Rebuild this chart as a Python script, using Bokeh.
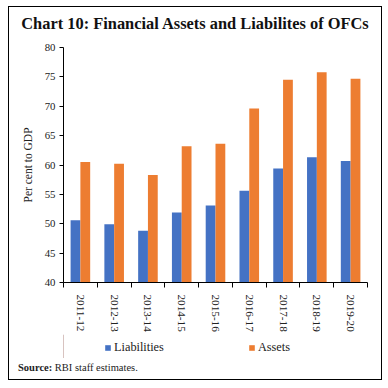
from bokeh.plotting import figure
from bokeh.models import (ColumnDataSource, Range1d, FixedTicker, Legend, LegendItem, Div)
from bokeh.layouts import column
from bokeh.transform import dodge
from bokeh.embed import file_html
from bokeh.resources import INLINE

years = ["2011-12", "2012-13", "2013-14", "2014-15", "2015-16",
         "2016-17", "2017-18", "2018-19", "2019-20"]
liabilities = [50.6, 49.9, 48.8, 51.9, 53.1, 55.6, 59.4, 61.3, 60.7]
assets = [60.5, 60.2, 58.3, 63.2, 63.6, 69.6, 74.5, 75.8, 74.7]
y_ticks = [40, 45, 50, 55, 60, 65, 70, 75, 80]
series_names = ["Liabilities", "Assets"]

idx = list(range(len(years)))
src = ColumnDataSource(dict(x=idx, liab=liabilities, assets=assets))

SERIF = "Liberation Serif"
BLUE = "#4472C4"
ORANGE = "#ED7D31"

# ---------------- main chart ----------------
p = figure(width=372, height=297, output_backend="svg", toolbar_location=None,
           title=None,
           x_range=Range1d(-0.5, len(years) - 0.5), y_range=Range1d(40, 80),
           min_border_left=54, min_border_right=14, min_border_top=10,
           min_border_bottom=50)
p.outline_line_color = None
p.xgrid.visible = False
p.ygrid.visible = False

r1 = p.vbar(x=dodge("x", -0.145, range=p.x_range), top="liab", width=0.29,
            source=src, fill_color=BLUE, line_color=None)
r2 = p.vbar(x=dodge("x", 0.145, range=p.x_range), top="assets", width=0.29,
            source=src, fill_color=ORANGE, line_color=None)

xa = p.xaxis[0]
xa.ticker = FixedTicker(ticks=idx, minor_ticks=[i - 0.5 for i in range(len(years) + 1)])
xa.major_label_overrides = {i: y for i, y in enumerate(years)}
xa.major_tick_line_color = None
xa.major_tick_out = 0
xa.major_tick_in = 0
xa.minor_tick_in = 0
xa.minor_tick_out = 5
xa.minor_tick_line_color = "black"
xa.major_label_orientation = "vertical"
xa.major_label_standoff = 7
xa.major_label_text_font = SERIF
xa.major_label_text_font_size = "11.2px"
xa.major_label_text_color = "#222222"
xa.axis_line_color = "black"

ya = p.yaxis[0]
ya.ticker = FixedTicker(ticks=y_ticks)
ya.major_tick_out = 4
ya.major_tick_in = 0
ya.minor_tick_line_color = None
ya.major_tick_line_color = "black"
ya.axis_line_color = "black"
ya.major_label_text_font = SERIF
ya.major_label_text_font_size = "10.8px"
ya.major_label_text_color = "#222222"
ya.major_label_standoff = 4
ya.axis_label = "Per cent to GDP"
ya.axis_label_text_font = SERIF
ya.axis_label_text_font_size = "11.5px"
ya.axis_label_text_font_style = "normal"
ya.axis_label_text_color = "#222222"
ya.axis_label_standoff = 8

# ---------------- legend strip ----------------
p2 = figure(width=372, height=24, output_backend="svg", toolbar_location=None,
            title=None, x_axis_type=None, y_axis_type=None,
            x_range=Range1d(0, 1), y_range=Range1d(0, 1), min_border=0)
p2.outline_line_color = None
p2.xgrid.visible = False
p2.ygrid.visible = False
# legend proxies (placed outside the visible range, only their swatches show)
k1 = p2.vbar(x=[-5], top=[1], width=0.29, fill_color=BLUE, line_color=None)
k2 = p2.vbar(x=[-5], top=[1], width=0.29, fill_color=ORANGE, line_color=None)

legend = Legend(items=[LegendItem(label=series_names[0], renderers=[k1]),
                       LegendItem(label=series_names[1], renderers=[k2])],
                orientation="horizontal", location=(41, 3))
legend.padding = 0
legend.margin = 0
legend.border_line_color = None
legend.background_fill_color = None
legend.glyph_width = 7
legend.glyph_height = 7
legend.label_height = 14
legend.label_standoff = 3
legend.spacing = 84
legend.label_text_font = SERIF
legend.label_text_font_size = "12.3px"
legend.label_text_color = "#222222"
p2.add_layout(legend, "center")

title_div = Div(text="Chart 10: Financial Assets and Liabilites of OFCs",
                width=372, height=30, margin=0,
                styles={"font-family": SERIF, "font-weight": "bold",
                        "font-size": "16.4px", "color": "#111111",
                        "text-align": "center", "line-height": "34px",
                        "white-space": "nowrap"})
src_div = Div(text="<b>Source:</b> RBI staff estimates.",
              width=372, height=21, margin=0,
              styles={"font-family": SERIF, "font-size": "10.5px",
                      "color": "#222222", "padding-left": "9px",
                      "line-height": "20px", "white-space": "nowrap"})

layout = column(title_div, p, p2, src_div, spacing=0,
                styles={"border": "1px solid black", "margin-left": "8px",
                        "margin-top": "6px"})

open("out.html", "w").write(file_html(layout, INLINE))
